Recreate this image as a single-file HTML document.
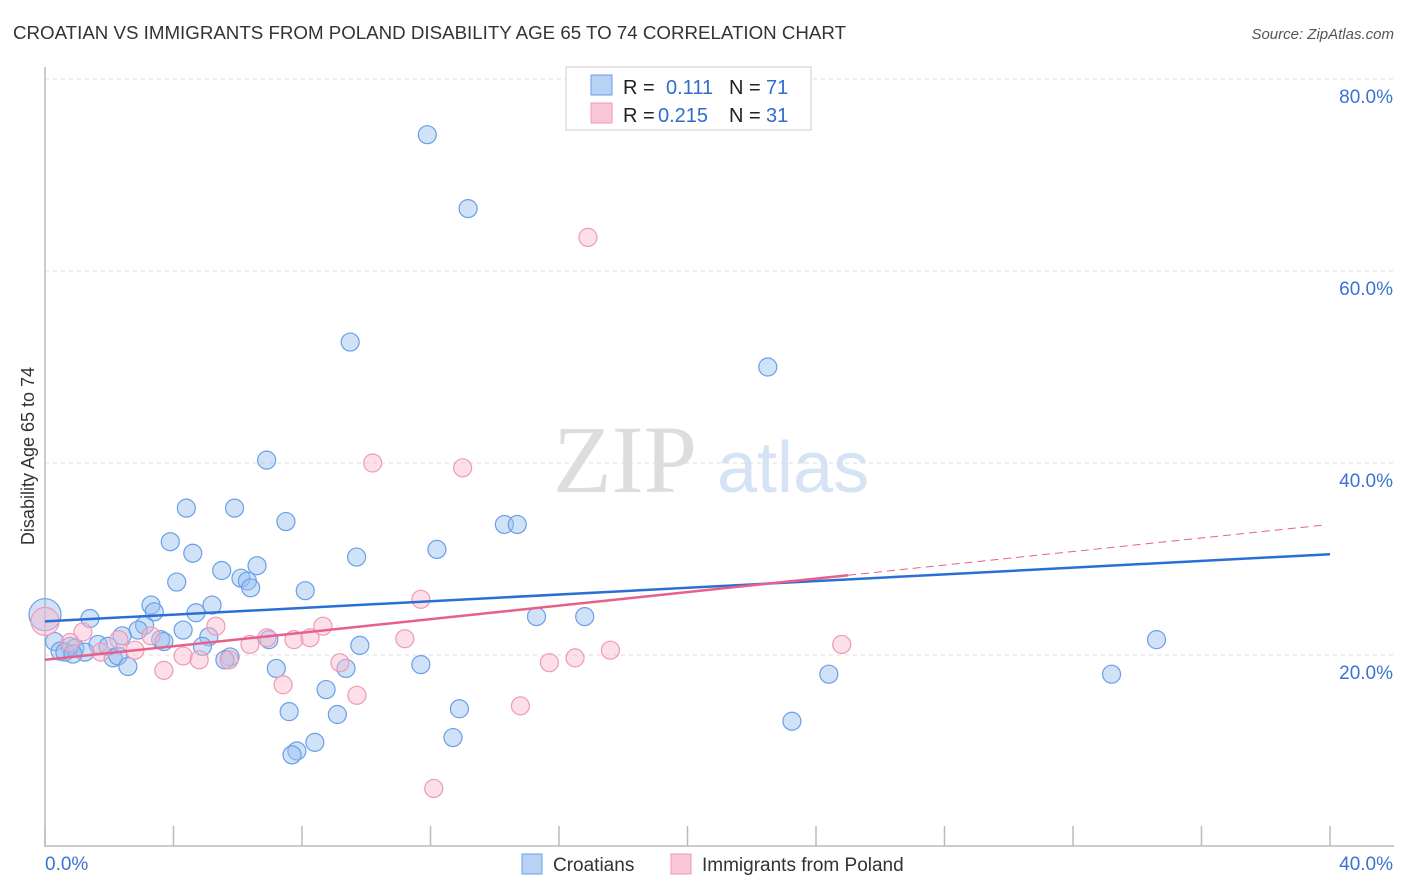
<!DOCTYPE html>
<html><head><meta charset="utf-8"><style>
body{margin:0;background:#fff;font-family:"Liberation Sans",sans-serif;}
#wrap{position:relative;width:1406px;height:892px;overflow:hidden}
</style></head><body>
<div id="wrap">
<svg id="svg" width="1406" height="892"></svg>
</div>
<script>
// data (x in %, y in %)
const blueX=[11.9,13.17,9.5,22.5,6.9,4.4,5.9,7.5,14.3,14.7,3.9,12.2,4.6,9.7,6.6,5.5,4.1,6.1,6.3,6.4,8.1,3.3,5.2,3.4,4.7,1.4,15.3,16.8,3.1,4.3,2.9,5.1,3.6,3.7,6.97,2.4,9.8,4.9,1.65,34.6,0.3,0.78,0.93,1.96,0.47,0.62,1.24,0.87,2.12,2.27,2.58,5.76,5.6,11.7,7.2,9.37,24.4,33.2,8.75,7.6,12.9,9.1,23.25,12.7,8.4,7.84,7.69,0.0];
const blueY=[74.2,66.5,52.6,50.0,40.3,35.3,35.3,33.9,33.6,33.6,31.8,31.0,30.6,30.2,29.3,28.8,27.6,28.0,27.7,27.0,26.7,25.2,25.2,24.5,24.4,23.8,24.0,24.0,23.1,22.6,22.6,21.9,21.6,21.4,21.6,22.0,21.0,20.9,21.1,21.6,21.4,20.9,20.7,20.9,20.4,20.3,20.3,20.1,19.7,19.9,18.8,19.8,19.5,19.0,18.6,18.6,18.0,18.0,16.4,14.1,14.4,13.8,13.1,11.4,10.9,10.0,9.6,24.2];
const blueR=[9,9,9,9,9,9,9,9,9,9,9,9,9,9,9,9,9,9,9,9,9,9,9,9,9,9,9,9,9,9,9,9,9,9,9,9,9,9,9,9,9,9,9,9,9,9,9,9,9,9,9,9,9,9,9,9,9,9,9,9,9,9,9,9,9,9,9,16];
const pinkX=[16.9,10.2,13.0,11.7,0.0,1.18,2.3,3.3,5.32,1.74,2.8,3.7,4.3,4.8,5.73,6.38,6.91,7.75,8.25,8.65,9.18,11.2,7.41,9.71,14.8,15.7,16.5,17.6,24.8,12.1,0.78];
const pinkY=[63.5,40.0,39.5,25.8,23.5,22.4,21.6,22.0,23.0,20.3,20.5,18.4,19.9,19.5,19.5,21.1,21.8,21.6,21.8,23.0,19.2,21.7,16.9,15.8,14.7,19.2,19.7,20.5,21.1,6.1,21.3];
const pinkR=[9,9,9,9,14,9,9,9,9,9,9,9,9,9,9,9,9,9,9,9,9,9,9,9,9,9,9,9,9,9,9];
const blueTrend=[23.5,30.5]; // y at x=0 and x=40
const pinkTrend=[19.5,33.6]; // y at x=0 and x=40 ; solid up to x=25
const pinkSolidEnd=25;
const yTicks=[20,40,60,80];
const yTickLabels=["20.0%","40.0%","60.0%","80.0%"];

const X0=45,X1=1330,Y0=847;
const sx=v=>X0+v/40*(X1-X0);
const sy=v=>Y0-v/20*192;
const NS="http://www.w3.org/2000/svg";
const svg=document.getElementById('svg');
function mk(tag,attrs,parent){const e=document.createElementNS(NS,tag);for(const k in attrs)e.setAttribute(k,attrs[k]);(parent||svg).appendChild(e);return e;}
function txt(s,attrs){const t=mk('text',attrs);t.textContent=s;return t;}

let t=txt("CROATIAN VS IMMIGRANTS FROM POLAND DISABILITY AGE 65 TO 74 CORRELATION CHART",{x:13,y:39,'font-size':18,fill:'#333',textLength:833,lengthAdjust:'spacingAndGlyphs'});

t=txt("Source: ZipAtlas.com",{x:1394,y:39,'font-size':15,fill:'#555','text-anchor':'end','font-style':'italic'});


// watermark
t=txt("ZIP",{x:553,y:492,'font-size':96,fill:'#ddd','font-family':'Liberation Serif'});

t=txt("atlas",{x:717,y:492,'font-size':72,fill:'#d6e3f5'});


// grid
yTicks.forEach((v,i)=>{
 const g=mk('line',{x1:X0,x2:1394,y1:sy(v),y2:sy(v),stroke:'#ddd','stroke-dasharray':'4,4'});
 
 const l=txt(yTickLabels[i],{x:1393,y:sy(v)+24,'font-size':19,fill:'#3b72d4','text-anchor':'end'});
 
});
// axes
let a=mk('line',{x1:X0,x2:X0,y1:67,y2:847,stroke:'#bbb','stroke-width':1.5});

a=mk('line',{x1:X0,x2:1394,y1:846,y2:846,stroke:'#bbb','stroke-width':1.5});

for(let i=0;i<=10;i++){const x=X0+i*(X1-X0)/10;const tk=mk('line',{x1:x,x2:x,y1:826,y2:846,stroke:'#bbb','stroke-width':1.5});
 }
t=txt("0.0%",{x:45,y:870,'font-size':19,fill:'#3b72d4'});
t=txt("40.0%",{x:1393,y:870,'font-size':19,fill:'#3b72d4','text-anchor':'end'});
t=txt("Disability Age 65 to 74",{x:34,y:456,'font-size':18,fill:'#333','text-anchor':'middle',transform:'rotate(-90 34 456)'});


// points
blueX.forEach((x,i)=>{const c=mk('circle',{cx:sx(x),cy:sy(blueY[i]),r:blueR[i],fill:'rgba(150,190,240,0.45)',stroke:'#6a9ee6','stroke-width':1.2});
 });
pinkX.forEach((x,i)=>{const c=mk('circle',{cx:sx(x),cy:sy(pinkY[i]),r:pinkR[i],fill:'rgba(248,185,205,0.45)',stroke:'#ef9ab5','stroke-width':1.2});
 });

// trends
const py=x=>pinkTrend[0]+(pinkTrend[1]-pinkTrend[0])*x/40;
let l=mk('line',{x1:sx(0),y1:sy(blueTrend[0]),x2:sx(40),y2:sy(blueTrend[1]),stroke:'#2a6fd6','stroke-width':2.5});

l=mk('line',{x1:sx(0),y1:sy(py(0)),x2:sx(pinkSolidEnd),y2:sy(py(pinkSolidEnd)),stroke:'#e8608a','stroke-width':2.5});

l=mk('line',{x1:sx(pinkSolidEnd),y1:sy(py(pinkSolidEnd)),x2:sx(39.85),y2:sy(py(39.85)),stroke:'#e8608a','stroke-width':1,'stroke-dasharray':'8,5'});


// legend box
let g=mk('g',{});
mk('rect',{x:566,y:67,width:245,height:63,fill:'#fff',stroke:'#ccc'},g);
mk('rect',{x:591,y:75,width:21,height:20,fill:'#b8d2f5',stroke:'#6a9ee6'},g);
mk('rect',{x:591,y:103,width:21,height:20,fill:'#f8c6d6',stroke:'#ef9ab5'},g);
[[94,"R = ","0.111","71",666],[122,"R = ","0.215","31",658]].forEach(r=>{
 let a=mk('text',{x:623,y:r[0],'font-size':20,fill:'#222'},g);a.textContent=r[1];
 a=mk('text',{x:r[4],y:r[0],'font-size':20,fill:'#2f6bd0'},g);a.textContent=r[2];
 a=mk('text',{x:729,y:r[0],'font-size':20,fill:'#222'},g);a.textContent="N = ";
 a=mk('text',{x:766,y:r[0],'font-size':20,fill:'#2f6bd0'},g);a.textContent=r[3];
});
// bottom legend
g=mk('g',{});
let e=mk('rect',{x:522,y:854,width:20,height:20,fill:'#b8d2f5',stroke:'#6a9ee6'},g);

e=mk('text',{x:553,y:871,'font-size':19,fill:'#333'},g);e.textContent="Croatians";

e=mk('rect',{x:671,y:854,width:20,height:20,fill:'#f8c6d6',stroke:'#ef9ab5'},g);

e=mk('text',{x:702,y:871,'font-size':19,fill:'#333'},g);e.textContent="Immigrants from Poland";

</script>
</body></html>
